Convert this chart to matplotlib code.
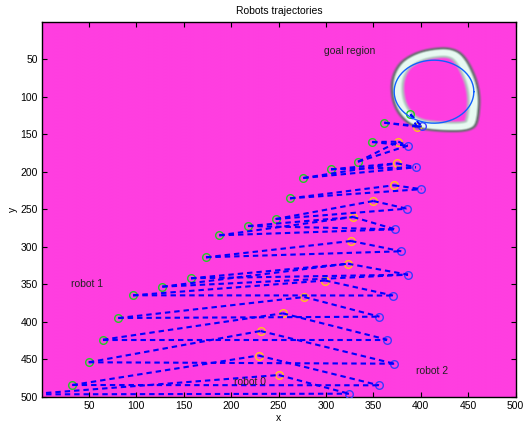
import numpy as np
import matplotlib
matplotlib.use("Agg")
import matplotlib.pyplot as plt
from matplotlib.path import Path

plt.rcParams['font.family'] = ['Liberation Sans', 'DejaVu Sans']

# ---------------- data ----------------
# robot 1 (green) positions
robot1_x = [-15, 32.5, 49.8, 64.8, 81.0, 96.5, 127.4, 157.7, 173.5, 187.5, 217.8,
            247.0, 262.1, 276.1, 305.4, 333.8, 348.6, 361.6, 389.2]
robot1_y = [497, 484.5, 454.2, 424.1, 395.2, 364.9, 353.4, 342.2, 314.2, 284.9, 272.5,
            263.2, 235.6, 208.5, 196.9, 186.8, 160.5, 134.8, 123.4]
# index of the robot 0 / robot 2 step each robot-1 position is linked with
robot1_link = [0, 1, 2, 3, 4, 5, 6, 6, 7, 8, 8, 9, 10, 11, 11, 12, 12, 13, 13]

# robot 0 (yellow) positions
robot0_x = [250.2, 228.9, 231.0, 254.4, 277.2, 299.2, 323.3, 326.5, 328.6, 350.0,
            371.8, 374.7, 376.3, 395.8]
robot0_y = [471.2, 445.2, 412.5, 388.9, 367.2, 345.2, 322.8, 292.5, 260.5, 239.2,
            218.2, 188.9, 160.1, 140.1]

# robot 2 (blue) positions
robot2_x = [324.3, 356.0, 372.1, 364.7, 356.5, 370.8, 386.6, 379.5, 372.9, 385.5,
            400.6, 395.0, 386.3, 401.0]
robot2_y = [496.1, 484.9, 456.1, 424.1, 393.4, 365.2, 337.4, 306.2, 276.9, 249.4,
            223.4, 194.2, 165.4, 139.6]

# goal region (fitted circle) and the irregular goal blob outline in the map
goal_center = (414.0, 93.4)
goal_radius = 42.0
blob_x = [393.5, 409.3, 432.2, 444.4, 456.8, 455.0, 449.7, 419.8, 393.5, 377.6, 374.2, 381.1]
blob_y = [49.1, 42.4, 40.3, 53.6, 91.4, 131.4, 140.4, 140.4, 135.8, 113.7, 82.4, 60.3]

labels = {"goal region": (297.5, 39.0), "robot 1": (31.0, 350.0),
          "robot 0": (203.5, 481.0), "robot 2": (395.0, 466.0)}

xticks = [50, 100, 150, 200, 250, 300, 350, 400, 450, 500]
yticks = [50, 100, 150, 200, 250, 300, 350, 400, 450, 500]

# ---------------- background map image ----------------
N = 500
yy, xx = np.mgrid[1:N + 1, 1:N + 1].astype(float)
pts = np.column_stack([blob_x, blob_y])
for _ in range(4):  # Chaikin smoothing of closed outline
    nxt = np.roll(pts, -1, axis=0)
    q = 0.75 * pts + 0.25 * nxt
    r = 0.25 * pts + 0.75 * nxt
    pts = np.empty((2 * len(q), 2))
    pts[0::2] = q
    pts[1::2] = r
dist = np.full(xx.shape, 1e9)
segs_a = pts
segs_b = np.roll(pts, -1, axis=0)
for a, b in zip(segs_a, segs_b):
    ab = b - a
    t = ((xx - a[0]) * ab[0] + (yy - a[1]) * ab[1]) / (ab @ ab + 1e-12)
    t = np.clip(t, 0, 1)
    px = a[0] + t * ab[0]
    py = a[1] + t * ab[1]
    dist = np.minimum(dist, np.hypot(xx - px, yy - py))
inside = Path(pts).contains_points(np.column_stack([xx.ravel(), yy.ravel()])).reshape(xx.shape)

M = np.array([255, 62, 224]) / 255.0
Wc = np.array([232, 250, 242]) / 255.0
Gout = np.array([95, 110, 105]) / 255.0
Gin = np.array([175, 200, 190]) / 255.0
Gsel = np.where(inside[..., None], Gin, Gout)
d = dist[..., None]
w1 = np.clip((d - 3.0) / 2.5, 0, 1)
col_a = Wc * (1 - w1) + Gsel * w1
w2 = np.clip((d - 5.5) / 3.0, 0, 1)
img = col_a * (1 - w2) + M * w2

# ---------------- figure ----------------
fig = plt.figure(figsize=(5.26, 4.25), dpi=100)
ax = fig.add_axes([42 / 526, 1 - 397 / 425, 474 / 526, 375 / 425])
ax.imshow(img, extent=(0.5, N + 0.5, N + 0.5, 0.5), aspect='auto', interpolation='bilinear', zorder=0)

# markers
ax.plot(robot1_x, robot1_y, 'o', ms=5.5, mfc='none', mec='#22cc22', mew=1.0, zorder=3)
ax.plot(robot0_x, robot0_y, 'o', ms=5.5, mfc='none', mec='#ffc21a', mew=1.0, zorder=3)
ax.plot(robot2_x, robot2_y, 'o', ms=5.5, mfc='none', mec='#3a3aff', mew=1.0, zorder=3)

line_kw = dict(color='#0000ff', lw=1.5, ls=(0, (2.6, 1.9)), zorder=4, solid_capstyle='butt')
for k in range(len(robot0_x)):
    ax.plot([robot0_x[k], robot2_x[k]], [robot0_y[k], robot2_y[k]], **line_kw)
for i, k in enumerate(robot1_link):
    ax.plot([robot1_x[i], robot0_x[k]], [robot1_y[i], robot0_y[k]], **line_kw)
    ax.plot([robot1_x[i], robot2_x[k]], [robot1_y[i], robot2_y[k]], **line_kw)

# goal circle
t = np.linspace(0, 2 * np.pi, 200)
ax.plot(goal_center[0] + goal_radius * np.cos(t), goal_center[1] + goal_radius * np.sin(t),
        color='#1060ff', lw=1.0, zorder=5)

for s, (x, y) in labels.items():
    ax.text(x, y, s, fontsize=7.5, color='#222222', va='center', ha='left', zorder=6)

ax.set_xlim(0.5, N + 0.5)
ax.set_ylim(N + 0.5, 0.5)
ax.set_xticks(xticks)
ax.set_yticks(yticks)
ax.tick_params(direction='in', top=True, right=True, length=3.5, width=0.8, labelsize=7.5, pad=3)
for sp in ax.spines.values():
    sp.set_linewidth(1.0)
ax.set_title("Robots trajectories", fontsize=7.5, pad=6)
ax.set_xlabel("x", fontsize=7.5, labelpad=1)
ax.set_ylabel("y", fontsize=7.5, labelpad=2)

fig.savefig("out.png", dpi=100)
